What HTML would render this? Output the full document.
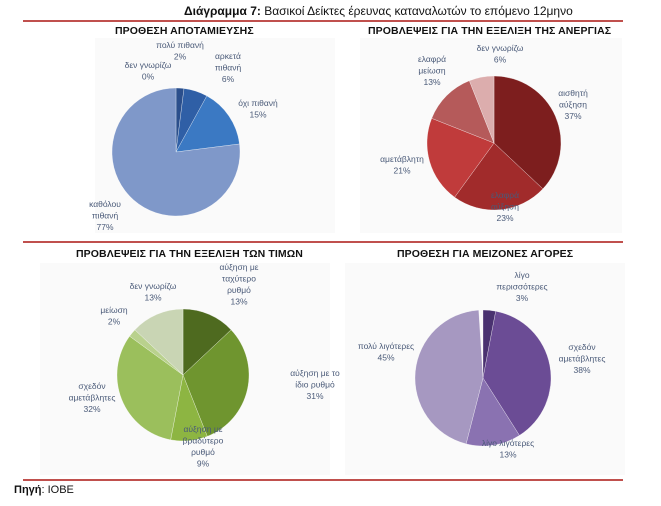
<!DOCTYPE html>
<html><head><meta charset="utf-8"><style>
body{margin:0;width:661px;height:506px;background:#fff;font-family:"Liberation Sans","DejaVu Sans",sans-serif;position:relative;overflow:hidden}
.t{position:absolute;white-space:nowrap;z-index:2}
.ttl{position:absolute;font-weight:bold;font-size:10.5px;color:#111;letter-spacing:0.1px;z-index:2}
.rl{position:absolute;left:23px;width:600px;height:2px;background:#c0504d;z-index:2}
svg{position:absolute;left:0;top:0;z-index:1}
</style></head><body>
<svg id="svg" width="661" height="506"></svg>
<div class="t" style="left:184px;top:4px;font-size:12px;color:#111"><b>Διάγραμμα 7:</b> Βασικοί Δείκτες έρευνας καταναλωτών το επόμενο 12μηνο</div>
<div class="rl" style="top:20px"></div>
<div class="rl" style="top:241px"></div>
<div class="rl" style="top:479px"></div>
<div class="ttl" style="left:115px;top:25px">ΠΡΟΘΕΣΗ ΑΠΟΤΑΜΙΕΥΣΗΣ</div>
<div class="ttl" style="left:368px;top:25px">ΠΡΟΒΛΕΨΕΙΣ ΓΙΑ ΤΗΝ ΕΞΕΛΙΞΗ ΤΗΣ ΑΝΕΡΓΙΑΣ</div>
<div class="ttl" style="left:76px;top:248px">ΠΡΟΒΛΕΨΕΙΣ ΓΙΑ ΤΗΝ ΕΞΕΛΙΞΗ ΤΩΝ ΤΙΜΩΝ</div>
<div class="ttl" style="left:397px;top:248px">ΠΡΟΘΕΣΗ ΓΙΑ ΜΕΙΖΟΝΕΣ ΑΓΟΡΕΣ</div>
<div class="t" style="left:14px;top:484px;font-size:11px;color:#111"><b>Πηγή</b>: ΙΟΒΕ</div>
<script>
const c1Labels=["πολύ πιθανή","αρκετά πιθανή","όχι πιθανή","καθόλου πιθανή","δεν γνωρίζω"];
const c1Values=[2,6,15,77,0];
const c2Labels=["αισθητή αύξηση","ελαφρά αύξηση","αμετάβλητη","ελαφρά μείωση","δεν γνωρίζω"];
const c2Values=[37,23,21,13,6];
const c3Labels=["αύξηση με ταχύτερο ρυθμό","αύξηση με το ίδιο ρυθμό","αύξηση με βραδύτερο ρυθμό","σχεδόν αμετάβλητες","μείωση","δεν γνωρίζω"];
const c3Values=[13,31,9,32,2,13];
const c4Labels=["λίγο περισσότερες","σχεδόν αμετάβλητες","λίγο λιγότερες","πολύ λιγότερες"];
const c4Values=[3,38,13,45];
const NS="http://www.w3.org/2000/svg";
const svg=document.getElementById('svg');
const charts=[
 {id:'c1',cx:176,cy:152,r:64,vals:c1Values,labels:c1Labels,colors:['#2b4f8c','#2f5fa6','#3b79c3','#7f98c9','#9fb2d8'],bg:[95,38,240,195],
  lab:[[[180,48],["πολύ πιθανή","2%"]],[[228,59],["αρκετά","πιθανή","6%"]],[[258,106],["όχι πιθανή","15%"]],[[105,207],["καθόλου","πιθανή","77%"]],[[148,68],["δεν γνωρίζω","0%"]]]},
 {id:'c2',cx:494,cy:143,r:67,vals:c2Values,labels:c2Labels,colors:['#7d1e1e','#a12b2b','#c03b3b','#b55a5a','#dcadad'],bg:[360,38,262,195],
  lab:[[[573,96],["αισθητή","αύξηση","37%"]],[[505,198],["ελαφρά","αύξηση","23%"]],[[402,162],["αμετάβλητη","21%"]],[[432,62],["ελαφρά","μείωση","13%"]],[[500,51],["δεν γνωρίζω","6%"]]]},
 {id:'c3',cx:183,cy:375,r:66,vals:c3Values,labels:c3Labels,colors:['#4e6a1f','#6f952f','#8db542','#9bbf5c','#b9d18d','#c9d5b4'],bg:[40,263,290,212],
  lab:[[[239,270],["αύξηση με","ταχύτερο","ρυθμό","13%"]],[[315,376],["αύξηση με το","ίδιο ρυθμό","31%"]],[[203,432],["αύξηση με","βραδύτερο","ρυθμό","9%"]],[[92,389],["σχεδόν","αμετάβλητες","32%"]],[[114,313],["μείωση","2%"]],[[153,289],["δεν γνωρίζω","13%"]]]},
 {id:'c4',cx:483,cy:378,r:68,vals:c4Values,labels:c4Labels,colors:['#4a3270','#6b4c95','#8a72b1','#a698c1'],bg:[345,263,280,212],
  lab:[[[522,278],["λίγο","περισσότερες","3%"]],[[582,350],["σχεδόν","αμετάβλητες","38%"]],[[508,446],["λίγο λιγότερες","13%"]],[[386,349],["πολύ λιγότερες","45%"]]]}
];
function el(tag,attrs){const e=document.createElementNS(NS,tag);for(const k in attrs)e.setAttribute(k,attrs[k]);svg.appendChild(e);return e;}
function angle(v,total){return v/total*2*Math.PI;}
charts.forEach(ch=>{
 const b=el('rect',{x:ch.bg[0],y:ch.bg[1],width:ch.bg[2],height:ch.bg[3],fill:'#fafafa'});
 
 
 const total=100;let a=0;
 ch.vals.forEach((v,i)=>{
  if(v<=0)return;
  const a0=a,a1=a+angle(v,total);a=a1;
  const x0=ch.cx+ch.r*Math.sin(a0),y0=ch.cy-ch.r*Math.cos(a0);
  const x1=ch.cx+ch.r*Math.sin(a1),y1=ch.cy-ch.r*Math.cos(a1);
  const large=(a1-a0)>Math.PI?1:0;
  const p=el('path',{d:`M${ch.cx},${ch.cy}L${x0},${y0}A${ch.r},${ch.r} 0 ${large} 1 ${x1},${y1}Z`,fill:ch.colors[i],stroke:'#ffffff','stroke-width':0.3});
  
  
 });
 ch.lab.forEach((L,i)=>{
  const t=el('text',{x:L[0][0],y:L[0][1],'text-anchor':'middle','font-size':'8.5','fill':'#4a5a78','font-family':'Liberation Sans, DejaVu Sans, sans-serif'});
  
  
  L[1].forEach((line,j)=>{const s=document.createElementNS(NS,'tspan');s.setAttribute('x',L[0][0]);s.setAttribute('dy',j?11.5:0);s.textContent=line;t.appendChild(s);});
 });
});
</script>
</body></html>
